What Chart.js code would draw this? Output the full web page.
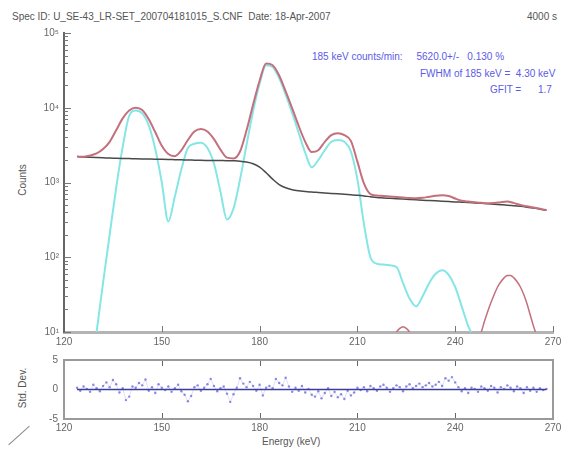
<!DOCTYPE html>
<html>
<head>
<meta charset="utf-8">
<script src="https://cdn.jsdelivr.net/npm/chart.js@4.4.0/dist/chart.umd.min.js"></script>
<style>
  html, body { margin: 0; padding: 0; background: #fff; }
  body { width: 577px; height: 457px; overflow: hidden; position: relative;
         font-family: "Liberation Sans", Arial, sans-serif; }
  canvas { position: absolute; left: 0; }
  .txt { position: absolute; white-space: pre; font-size: 10px; line-height: 12px; color: #555; }
  .blue { color: #5b5be6; }
  .rot { transform: rotate(-90deg); text-align: center; }
  .slash { position: absolute; left: 5px; top: 435px; width: 28px; height: 0;
           border-top: 1.5px solid #888; transform: rotate(-42deg); }
</style>
</head>
<body>
<div class="txt" style="left:12px; top:11px;">Spec ID: U_SE-43_LR-SET_200704181015_S.CNF  Date: 18-Apr-2007</div>
<div class="txt" style="left:527px; top:11px;">4000 s</div>
<div class="txt blue" style="left:312px; top:51px;">185 keV counts/min:     5620.0+/-   0.130 %</div>
<div class="txt blue" style="left:420px; top:68px;">FWHM of 185 keV =  4.30 keV</div>
<div class="txt blue" style="left:490px; top:84px;">GFIT =      1.7</div>
<div class="txt rot" style="left:3px; top:174px; width:40px;">Counts</div>
<div class="txt rot" style="left:-2px; top:382px; width:50px;">Std. Dev.</div>
<div class="txt" style="left:262px; top:436px;">Energy (keV)</div>
<div class="slash"></div>

<canvas id="main" width="577" height="352" style="top:0"></canvas>
<canvas id="resid" width="577" height="92" style="top:348px"></canvas>

<script>
// spectrum, 2 keV bins
const energy = [124,126,128,130,132,134,136,138,140,142,144,146,148,150,152,154,156,158,160,162,164,166,168,170,172,174,176,178,180,182,184,186,188,190,192,194,196,198,200,202,204,206,208,210,212,214,216,218,220,222,224,226,228,230,232,234,236,238,240,242,244,246,248,250,252,254,256,258,260,262,264,266,268];

// total fit (peaks + continuum)
const fitTotal = [2220,2210,2300,2450,2800,3500,5000,7200,9200,10000,9300,7000,4700,3100,2400,2250,2700,3700,4800,5200,4800,3800,2750,2150,2100,2600,5000,11000,23000,39000,37000,27000,16500,9800,5700,3500,2550,2700,3500,4300,4550,4300,3600,1900,970,700,670,660,650,640,630,620,615,625,645,665,675,660,610,570,555,545,535,528,530,545,555,530,500,480,462,445,428];

// continuum under the peaks
const continuum = [2220,2200,2180,2160,2140,2120,2110,2100,2090,2080,2070,2060,2050,2040,2030,2020,2010,2000,1990,1980,1975,1970,1965,1960,1950,1930,1880,1780,1600,1350,1110,940,850,800,775,760,745,735,725,715,705,695,685,675,662,645,630,622,615,608,601,594,587,580,574,568,562,556,550,545,540,533,526,519,512,505,498,490,480,468,455,440,425];

// net counts after continuum subtraction
const netCounts = [null,null,null,10,46,200,850,3000,7800,9200,8400,5800,2800,1000,300,650,1500,2900,3300,3400,2900,1800,750,320,450,1100,3200,9000,21000,37000,35000,25000,15000,8500,4600,2500,1600,2000,2700,3500,3700,3500,2600,1100,280,100,82,80,78,74,45,28,22,30,45,60,67,58,40,22,12,8,null,null,null,null,null,null,null,null,null,null,null];

// small fitted peaks near the bottom
const smallPeakEnergy = [221,222,223,224,225,226,227];
const smallPeakCounts = [8.5,10,11.2,11.8,11.2,10,8.5];
const tailPeakEnergy = [247,248,249,250,251,252,253,254,255,256,257,258,259,260,261,262,263,264,265,266];
const tailPeakCounts = [8,10,14,19,25,32,40,47,53,57,57,53,47,40,32,24,17,12,9,7];

// residuals, 1 keV channels
const residEnergy = [124,125,126,127,128,129,130,131,132,133,134,135,136,137,138,139,140,141,142,143,144,145,146,147,148,149,150,151,152,153,154,155,156,157,158,159,160,161,162,163,164,165,166,167,168,169,170,171,172,173,174,175,176,177,178,179,180,181,182,183,184,185,186,187,188,189,190,191,192,193,194,195,196,197,198,199,200,201,202,203,204,205,206,207,208,209,210,211,212,213,214,215,216,217,218,219,220,221,222,223,224,225,226,227,228,229,230,231,232,233,234,235,236,237,238,239,240,241,242,243,244,245,246,247,248,249,250,251,252,253,254,255,256,257,258,259,260,261,262,263,264,265,266,267,268];
const residStdDev = [0.3,-0.2,0.5,0.1,-0.4,0.8,0.2,-0.3,0.6,1.2,
  0.4,1.6,0.9,-0.5,0.2,-1.8,-1.2,0.5,0.3,1.1,
  0.7,1.7,-0.2,0.4,-0.6,0.9,0.3,-0.1,0.5,-0.4,
  0.2,0.8,-0.3,-0.9,-2.0,-1.1,0.4,0.7,-0.2,0.3,
  0.9,1.8,0.6,-0.3,0.2,0.5,-0.7,-2.1,-0.8,0.3,
  1.9,1.0,0.4,1.3,0.6,-0.2,0.8,-1.0,0.3,0.6,
  0.2,1.8,1.1,0.7,2.0,0.5,-0.4,0.3,-0.2,0.6,
  -0.5,0.1,-0.9,-1.2,-0.3,-1.5,-0.6,0.2,-1.1,-0.4,
  -1.3,-0.8,-1.6,-0.2,-1.0,-0.5,0.3,-0.1,0.4,-0.3,
  0.6,0.2,-0.2,0.5,0.8,0.3,-0.4,0.2,0.7,0.4,
  -0.3,0.5,0.9,0.2,0.6,1.0,0.4,0.7,1.1,0.5,
  0.8,1.3,0.6,1.9,1.5,2.1,1.2,0.4,-0.3,0.2,
  -0.6,0.3,0.1,-0.4,0.5,0.2,-0.2,0.6,0.3,-0.5,
  0.4,0.1,0.7,0.3,-0.3,0.5,0.2,-0.6,0.4,-0.2,
  0.3,-0.4,0.2,-0.1,0.1];

const energyTicks = [120,150,180,210,240,270];
const countDecades = [10,100,1000,10000,100000];
const decadeLabels = ['10\u00b9','10\u00b2','10\u00b3','10\u2074','10\u2075'];
const residTicks = [-5,0,5];

Chart.defaults.font.family = '"Liberation Sans", Arial, sans-serif';
Chart.defaults.font.size = 10;
Chart.defaults.color = '#666';

const toXY = (xs, ys) => xs.map((x, i) => ({ x: x, y: ys[i] }));

// short tick marks drawn into the plot area
const innerTicks = {
  id: 'innerTicks',
  afterDatasetsDraw(chart, args, opts) {
    const { ctx, chartArea: a, scales } = chart;
    ctx.save();
    ctx.strokeStyle = opts.color;
    ctx.lineWidth = 1;
    ctx.beginPath();
    (opts.x || []).forEach(v => {
      const px = Math.round(scales.x.getPixelForValue(v)) + 0.5;
      ctx.moveTo(px, a.bottom); ctx.lineTo(px, a.bottom - opts.len);
      if (opts.top) { ctx.moveTo(px, a.top); ctx.lineTo(px, a.top + opts.len); }
    });
    (opts.y || []).forEach(t => {
      const py = Math.round(scales.y.getPixelForValue(t.v)) + 0.5;
      ctx.moveTo(a.left, py); ctx.lineTo(a.left + t.len, py);
    });
    ctx.stroke();
    if (opts.box) {
      ctx.strokeStyle = opts.box;
      ctx.lineWidth = 2;
      ctx.strokeRect(a.left, a.top, a.right - a.left, a.bottom - a.top);
    }
    ctx.restore();
  }
};

const logTicks = [];
countDecades.forEach((d, i) => {
  if (i === countDecades.length - 1) { logTicks.push({ v: d, len: 7 }); return; }
  for (let m = 1; m < 10; m++) logTicks.push({ v: m * d, len: m === 1 ? 7 : 4 });
});

const line = (data, color, width, order) => ({
  data: data, borderColor: color, borderWidth: width, pointRadius: 0,
  cubicInterpolationMode: 'monotone', fill: false, order: order
});

new Chart(document.getElementById('main'), {
  type: 'line',
  data: {
    datasets: [
      line(toXY(energy, fitTotal), '#c4707c', 2, 1),
      line(toXY(energy, continuum), '#4a4a4a', 1.5, 2),
      line(toXY(energy, netCounts), '#86e6e6', 2, 3),
      line(toXY(smallPeakEnergy, smallPeakCounts), '#c4707c', 1.5, 4),
      line(toXY(tailPeakEnergy, tailPeakCounts), '#c4707c', 1.5, 4)
    ]
  },
  options: {
    responsive: false,
    animation: false,
    layout: { padding: { top: 33, right: 24, left: 0, bottom: 0 } },
    plugins: {
      legend: { display: false },
      tooltip: { enabled: false },
      innerTicks: { color: '#777', len: 6, x: energyTicks.slice(1), y: logTicks }
    },
    scales: {
      x: {
        type: 'linear', min: 120, max: 270,
        afterBuildTicks: s => { s.ticks = energyTicks.map(v => ({ value: v })); },
        afterFit: s => { s.height = 20; },
        ticks: { padding: 4, maxRotation: 0, color: '#666' },
        grid: { drawOnChartArea: false, drawTicks: false, color: 'rgba(0,0,0,0)' },
        border: { color: '#b4b4b4', width: 3 }
      },
      y: {
        type: 'logarithmic', min: 10, max: 100000,
        afterBuildTicks: s => { s.ticks = countDecades.map(v => ({ value: v })); },
        afterFit: s => { s.width = 64; },
        ticks: {
          padding: 5, color: '#666',
          callback: v => decadeLabels[countDecades.indexOf(v)]
        },
        grid: { drawOnChartArea: false, drawTicks: false, color: 'rgba(0,0,0,0)' },
        border: { color: '#666', width: 2 }
      }
    }
  },
  plugins: [innerTicks]
});

new Chart(document.getElementById('resid'), {
  type: 'line',
  data: {
    datasets: [
      {
        data: [{ x: residEnergy[0], y: 0 }, { x: residEnergy[residEnergy.length - 1], y: 0 }],
        borderColor: '#3c3c9a', borderWidth: 1.5, pointRadius: 0, order: 1
      },
      {
        data: toXY(residEnergy, residStdDev),
        borderColor: 'rgba(140,140,225,0.35)', borderWidth: 0.8,
        pointRadius: 1.2, pointBorderWidth: 0,
        pointBackgroundColor: 'rgba(110,110,220,0.8)', order: 2
      }
    ]
  },
  options: {
    responsive: false,
    animation: false,
    layout: { padding: { top: 10, right: 24, left: 0, bottom: 0 } },
    plugins: {
      legend: { display: false },
      tooltip: { enabled: false },
      innerTicks: { color: '#666', len: 6, top: true, x: energyTicks.slice(1, -1), box: '#9a9a9a' }
    },
    scales: {
      x: {
        type: 'linear', min: 120, max: 270,
        afterBuildTicks: s => { s.ticks = energyTicks.map(v => ({ value: v })); },
        afterFit: s => { s.height = 21; },
        ticks: { padding: 3, maxRotation: 0, color: '#666' },
        grid: { drawOnChartArea: false, drawTicks: false, color: 'rgba(0,0,0,0)' },
        border: { display: false }
      },
      y: {
        type: 'linear', min: -5, max: 5,
        afterBuildTicks: s => { s.ticks = residTicks.map(v => ({ value: v })); },
        afterFit: s => { s.width = 64; },
        ticks: { padding: 6, color: '#666' },
        grid: { drawOnChartArea: false, drawTicks: false, color: 'rgba(0,0,0,0)' },
        border: { display: false }
      }
    }
  },
  plugins: [innerTicks]
});
</script>
</body>
</html>
